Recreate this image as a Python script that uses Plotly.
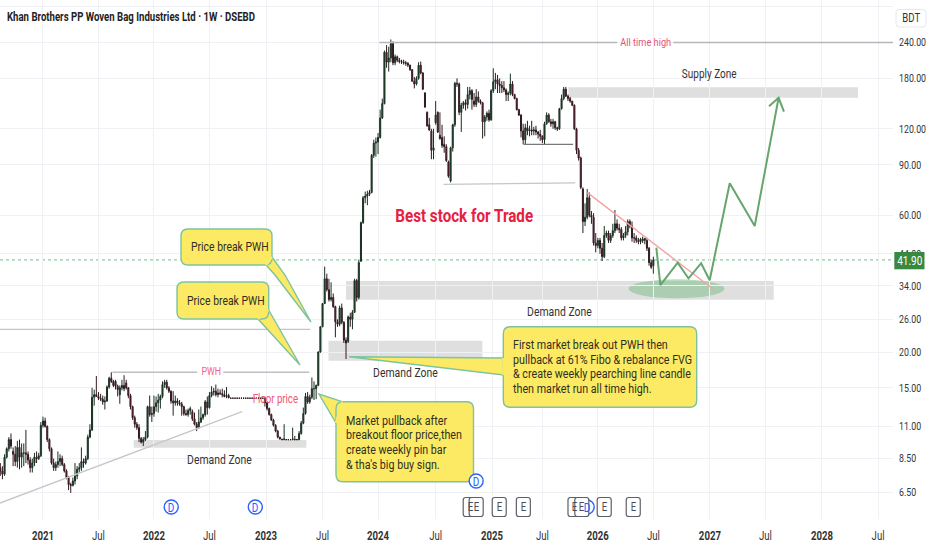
#!/usr/bin/env python
# -*- coding: utf-8 -*-

import plotly.graph_objects as go

# weekly candles, x is the bar number (tradingview style index axis)
opens = [
    7.9, 7.7, 7.5, 8.6, 9.2, 9.9, 9.0, 8.8, 8.3, 9.3,
    8.6, 8.9, 8.9, 8.8, 8.4, 7.9, 8.2, 8.6, 8.5, 8.7,
    11.1, 11.5, 11.0, 9.9, 9.2, 8.2, 7.9, 8.1, 8.3, 8.5,
    8.1, 7.7, 7.3, 6.9, 6.85, 7.1, 7.4, 7.8, 7.9, 8.3,
    8.2, 8.5, 10.1, 10.7, 13.9, 14.2, 14.0, 13.8, 13.7, 13.4,
    13.5, 15.1, 16.2, 15.8, 15.8, 15.2, 14.2, 15.0, 15.3, 15.6,
    15.0, 14.1, 12.9, 11.8, 11.2, 10.9, 10.0, 9.7, 9.9, 10.1,
    12.9, 12.1, 12.2, 12.9, 13.3, 13.6, 14.0, 15.4, 15.7, 15.0,
    14.6, 13.5, 13.3, 13.5, 13.3, 13.2, 12.9, 12.2, 12.1, 12.5,
    12.4, 11.7, 11.2, 10.9, 11.4, 11.8, 12.1, 13.4, 12.8, 14.1,
    14.5, 14.6, 14.2, 14.4, 14.3, 14.2, 14.0, 14.1, 13.8, 13.8,
    13.8, 13.8, 13.8, 13.8, 13.8, 13.8, 13.8, 13.8, 13.8, 13.8,
    13.8, 13.8, 13.8, 13.8, 13.8, 13.3, 12.7, 12.1, 11.6, 11.1,
    10.6, 10.1, 9.95, 9.9, 9.9, 9.9, 9.9, 9.9, 9.9, 9.9,
    9.9, 10.4, 11.3, 12.2, 14.0, 13.4, 13.9, 14.9, 14.9, 15.3,
    20.0, 24.5, 29.5, 36.0, 33.0, 30.5, 31.0, 28.8, 25.5, 25.0,
    28.5, 25.4, 22.0, 21.8, 26.5, 26.0, 27.5, 35.5, 31.0, 41.5,
    56.5, 69.0, 70.0, 71.0, 72.0, 97.0, 107.0, 108.0, 112.0, 131.0,
    147.0, 222.0, 205.0, 212.0, 238.0, 204.0, 214.0, 208.0, 206.0, 205.0,
    204.0, 203.0, 200.0, 193.0, 176.0, 172.0, 180.0, 200.0, 188.0, 160.0,
    137.0, 124.0, 118.0, 101.0, 126.0, 137.0, 114.0, 112.0, 106.0, 104.0,
    92.0, 79.0, 103.0, 124.0, 173.0, 172.0, 137.0, 145.0, 148.0, 146.0,
    158.0, 163.0, 150.0, 146.0, 155.0, 150.0, 148.0, 127.0, 132.0, 136.0,
    129.0, 163.0, 175.0, 178.0, 172.0, 170.0, 167.0, 164.0, 158.0, 160.0,
    172.0, 158.0, 153.0, 140.0, 134.0, 118.0, 110.0, 121.0, 118.0, 119.0,
    118.0, 119.0, 117.0, 115.0, 113.0, 110.0, 125.0, 134.0, 127.0, 125.0,
    127.0, 121.0, 120.0, 141.0, 153.0, 165.0, 156.0, 153.0, 150.0, 145.0,
    120.0, 101.0, 95.0, 74.0, 57.0, 59.0, 69.0, 60.0, 59.0, 48.0,
    47.0, 49.0, 46.0, 43.0, 51.0, 52.0, 49.0, 51.0, 53.0, 56.0,
    54.0, 53.5, 50.0, 51.0, 52.5, 57.0, 55.0, 50.0, 50.0, 49.0,
    48.5, 49.5, 49.0, 49.0, 46.0, 41.0, 40.0,
]
highs = [
    8.2, 8.0, 8.8, 9.3, 10.1, 10.4, 9.3, 9.4, 9.8, 9.9,
    9.6, 9.6, 10.7, 9.0, 8.6, 8.5, 8.9, 9.0, 8.9, 11.4,
    11.9, 11.8, 11.1, 10.0, 9.3, 8.5, 8.3, 9.0, 8.8, 8.7,
    8.2, 7.8, 7.4, 7.0, 7.3, 8.2, 8.0, 8.2, 9.3, 8.5,
    8.7, 10.3, 11.2, 15.0, 14.8, 16.5, 14.5, 14.3, 14.1, 14.0,
    15.3, 16.4, 17.0, 16.0, 16.0, 15.4, 15.3, 16.0, 16.6, 16.0,
    15.1, 14.3, 13.0, 12.0, 11.4, 11.2, 10.1, 10.1, 10.6, 13.0,
    14.1, 12.9, 14.1, 14.0, 14.3, 14.2, 15.8, 16.0, 16.0, 15.2,
    14.7, 14.6, 14.1, 13.8, 13.6, 13.4, 13.0, 12.6, 12.7, 12.9,
    12.6, 12.3, 11.4, 12.6, 12.9, 12.2, 13.6, 14.0, 14.5, 15.2,
    15.0, 15.4, 14.9, 14.8, 14.9, 14.7, 15.1, 14.3, 13.85, 13.85,
    13.85, 13.85, 13.85, 13.85, 13.85, 13.85, 13.85, 13.85, 13.85, 13.85,
    13.85, 13.85, 13.85, 13.85, 14.0, 13.4, 12.8, 12.2, 11.7, 11.2,
    10.7, 10.1, 9.95, 11.2, 9.95, 9.95, 9.95, 10.9, 10.2, 9.95,
    10.6, 11.5, 12.8, 14.4, 14.5, 14.2, 16.3, 15.8, 15.4, 20.1,
    24.6, 29.6, 39.7, 37.5, 36.0, 35.0, 32.0, 29.0, 26.0, 29.0,
    29.5, 25.6, 22.5, 26.8, 27.4, 28.0, 36.0, 36.0, 42.0, 57.0,
    70.0, 72.5, 73.0, 73.5, 98.0, 110.0, 112.0, 116.0, 140.0, 153.0,
    225.0, 235.0, 232.0, 246.0, 242.0, 218.0, 216.0, 212.0, 209.0, 209.0,
    207.0, 205.0, 201.0, 194.0, 182.0, 183.0, 205.0, 206.0, 189.0, 161.0,
    138.0, 131.0, 120.0, 120.0, 150.0, 138.0, 137.0, 124.0, 113.0, 106.0,
    93.0, 104.0, 125.0, 175.0, 180.0, 174.0, 148.0, 150.0, 152.0, 168.0,
    168.0, 165.0, 160.0, 165.0, 162.0, 152.0, 149.0, 134.0, 138.0, 140.0,
    165.0, 195.0, 188.0, 185.0, 180.0, 176.0, 176.0, 166.0, 162.0, 187.0,
    176.0, 159.0, 154.0, 141.0, 135.0, 125.0, 125.0, 128.0, 123.0, 128.0,
    122.0, 123.0, 118.0, 119.0, 114.0, 127.0, 137.0, 136.0, 130.0, 130.0,
    128.0, 122.0, 142.0, 158.0, 168.0, 168.0, 158.0, 155.0, 150.0, 146.0,
    121.0, 103.0, 96.0, 75.0, 66.0, 74.0, 72.0, 62.0, 61.0, 52.0,
    50.0, 50.0, 48.0, 55.0, 53.0, 53.0, 52.0, 56.0, 62.5, 58.0,
    56.0, 54.5, 52.0, 55.0, 58.0, 58.0, 57.0, 52.0, 51.0, 50.0,
    50.0, 50.5, 50.0, 50.0, 46.5, 42.0, 43.0,
]
lows = [
    7.4, 7.2, 7.4, 8.5, 9.0, 9.2, 8.0, 8.0, 7.9, 7.8,
    7.9, 8.0, 8.2, 8.1, 7.6, 7.6, 8.0, 8.2, 8.4, 8.6,
    10.9, 10.9, 9.7, 9.0, 8.1, 7.7, 7.7, 7.9, 8.0, 8.0,
    7.6, 7.2, 6.6, 6.45, 6.8, 6.9, 7.2, 7.6, 7.7, 7.9,
    8.1, 8.4, 10.0, 10.6, 13.0, 14.0, 13.6, 13.5, 13.1, 12.6,
    13.4, 14.9, 15.6, 15.1, 14.8, 14.0, 13.2, 14.7, 14.6, 14.8,
    13.8, 12.6, 11.6, 10.9, 10.7, 9.7, 9.6, 9.4, 9.8, 10.0,
    11.9, 11.4, 11.9, 12.4, 12.3, 12.7, 13.8, 15.0, 14.8, 14.4,
    13.2, 12.0, 13.0, 13.0, 13.0, 12.0, 12.0, 12.0, 11.9, 12.1,
    11.5, 11.1, 10.6, 10.8, 11.3, 11.6, 11.9, 12.1, 12.7, 13.9,
    14.1, 14.0, 13.9, 14.2, 13.9, 13.9, 13.8, 13.8, 13.8, 13.8,
    13.8, 13.8, 13.8, 13.8, 13.8, 13.8, 13.8, 13.8, 13.8, 13.8,
    13.8, 13.8, 13.8, 13.8, 12.9, 12.5, 12.0, 11.5, 11.0, 10.5,
    10.0, 9.9, 9.85, 9.85, 9.85, 9.85, 9.85, 9.85, 9.85, 9.85,
    9.85, 10.3, 11.2, 12.1, 13.2, 13.2, 13.7, 13.6, 13.7, 15.2,
    19.9, 24.4, 29.4, 32.5, 30.0, 30.0, 28.5, 22.5, 24.5, 24.6,
    25.0, 21.5, 18.9, 21.5, 24.5, 24.0, 27.4, 30.0, 30.5, 41.2,
    56.0, 66.0, 65.0, 70.0, 71.5, 95.0, 96.0, 98.0, 111.0, 130.0,
    146.0, 196.0, 190.0, 205.0, 200.0, 200.0, 205.0, 203.0, 202.0, 201.0,
    199.0, 197.0, 191.0, 175.0, 166.0, 170.0, 178.0, 186.0, 164.0, 142.0,
    122.0, 118.0, 94.0, 94.0, 124.0, 116.0, 110.0, 103.0, 99.0, 92.0,
    81.0, 78.0, 100.0, 122.0, 168.0, 134.0, 117.0, 141.0, 139.0, 141.0,
    152.0, 140.0, 143.0, 143.0, 148.0, 146.0, 111.0, 113.0, 128.0, 127.0,
    128.0, 160.0, 165.0, 160.0, 160.0, 160.0, 161.0, 150.0, 150.0, 157.0,
    156.0, 152.0, 139.0, 133.0, 112.0, 106.0, 106.0, 114.0, 113.0, 114.0,
    114.0, 114.0, 111.0, 109.0, 107.0, 106.0, 124.0, 126.0, 122.0, 120.0,
    119.0, 118.0, 119.0, 140.0, 151.0, 155.0, 150.0, 148.0, 144.0, 119.0,
    98.0, 93.0, 74.0, 52.0, 55.0, 58.0, 59.0, 56.0, 47.0, 44.5,
    46.0, 44.0, 41.5, 42.5, 50.0, 48.0, 48.0, 50.0, 52.0, 53.0,
    52.0, 49.0, 49.0, 50.0, 51.0, 54.0, 48.5, 48.0, 48.0, 47.5,
    47.5, 48.0, 47.5, 45.0, 40.0, 39.0, 37.5,
]
closes = [
    7.7, 7.5, 8.6, 9.2, 9.9, 9.4, 8.8, 8.3, 9.3, 8.6,
    8.9, 8.9, 8.8, 8.4, 7.9, 8.2, 8.6, 8.5, 8.7, 11.1,
    11.5, 11.0, 9.9, 9.2, 8.2, 7.9, 8.1, 8.3, 8.5, 8.1,
    7.7, 7.3, 6.9, 6.85, 7.1, 7.4, 7.8, 7.9, 8.3, 8.2,
    8.5, 10.1, 10.7, 13.9, 14.2, 14.0, 13.8, 13.7, 13.4, 13.5,
    15.1, 16.2, 15.8, 15.3, 15.2, 14.8, 15.0, 15.3, 14.9, 15.0,
    14.1, 12.9, 11.8, 11.2, 10.9, 10.0, 9.7, 9.9, 10.1, 12.9,
    12.1, 12.2, 12.9, 13.3, 13.6, 14.0, 15.4, 15.7, 15.0, 14.6,
    13.5, 13.3, 13.5, 13.3, 13.2, 12.9, 12.2, 12.1, 12.5, 12.7,
    11.7, 11.2, 10.9, 11.4, 11.8, 12.1, 13.4, 12.8, 14.1, 14.5,
    14.6, 14.2, 14.4, 14.3, 14.2, 14.0, 14.1, 13.85, 13.8, 13.8,
    13.8, 13.8, 13.8, 13.8, 13.8, 13.8, 13.8, 13.8, 13.8, 13.8,
    13.8, 13.8, 13.8, 13.8, 13.3, 12.7, 12.1, 11.6, 11.1, 10.6,
    10.1, 9.95, 9.9, 9.95, 9.9, 9.9, 9.9, 9.95, 9.9, 9.9,
    10.4, 11.3, 12.2, 14.0, 13.4, 13.9, 14.9, 14.9, 15.3, 20.0,
    24.5, 29.5, 36.0, 33.0, 30.5, 31.0, 28.8, 25.5, 25.0, 28.5,
    25.4, 22.0, 21.5, 26.5, 26.0, 27.5, 35.5, 31.0, 41.0, 56.5,
    69.0, 70.0, 71.0, 72.0, 97.0, 107.0, 108.0, 112.0, 131.0, 147.0,
    222.0, 205.0, 212.0, 238.0, 204.0, 214.0, 208.0, 206.0, 205.0, 204.0,
    203.0, 200.0, 193.0, 176.0, 172.0, 180.0, 200.0, 188.0, 165.0, 143.0,
    123.0, 119.0, 101.0, 103.0, 134.0, 117.0, 111.0, 105.0, 104.0, 93.0,
    82.0, 103.0, 124.0, 173.0, 172.0, 137.0, 145.0, 148.0, 146.0, 158.0,
    163.0, 152.0, 146.0, 155.0, 150.0, 148.0, 127.0, 132.0, 136.0, 129.0,
    163.0, 175.0, 178.0, 172.0, 170.0, 167.0, 164.0, 158.0, 160.0, 172.0,
    158.0, 153.0, 140.0, 134.0, 118.0, 110.0, 121.0, 118.0, 119.0, 118.0,
    119.0, 117.0, 115.0, 113.0, 110.0, 125.0, 134.0, 127.0, 125.0, 127.0,
    121.0, 120.0, 141.0, 153.0, 165.0, 156.0, 153.0, 150.0, 145.0, 120.0,
    101.0, 95.0, 75.0, 57.0, 59.0, 69.0, 60.0, 59.0, 48.0, 47.0,
    49.0, 46.0, 43.0, 51.0, 52.0, 49.0, 51.0, 53.0, 56.0, 54.0,
    53.5, 50.0, 51.0, 52.5, 57.0, 55.0, 50.0, 50.0, 49.0, 48.5,
    49.5, 49.0, 49.8, 46.0, 41.0, 39.5, 41.9,
]

price_ticks = [320, 240, 180, 120, 90, 60, 44, 34, 26, 20, 15, 11, 8.5, 6.5]
price_labels = ["", "240.00", "180.00", "120.00", "90.00", "60.00", "44.00", "34.00",
                "26.00", "20.00", "15.00", "11.00", "8.50", "6.50"]
week_ticks = [20, 46, 72, 98, 124.5, 151, 177, 204, 230.4, 254, 280, 306, 332.5, 358.5, 385, 411.3]
week_labels = ["<b>2021</b>", "Jul", "<b>2022</b>", "Jul", "<b>2023</b>", "Jul", "<b>2024</b>", "Jul",
               "<b>2025</b>", "Jul", "<b>2026</b>", "Jul", "<b>2027</b>", "Jul", "<b>2028</b>", "Jul"]

dividend_weeks = [80.1, 119.5, 275]
earnings_weeks = [220.2, 223, 233.8, 245.1, 269.3, 272.5, 283, 296.6]

# drawings on the chart, as (bar, price)
forecast_weeks = [307.4, 309.3, 317.4, 322.5, 328.4, 332.4, 341.8, 353.5, 364.7]
forecast_prices = [46.2, 34.2, 41.0, 36.1, 40.8, 35.6, 77.5, 55.0, 154]
arrow_weeks = [360.2, 364.7, 367.2]
arrow_prices = [144, 154, 137.7]

# (first bar, last bar, top price, bottom price)
zones = [
    (266.2, 401.9, 167.4, 154),
    (162, 362.4, 35.4, 30.4),
    (153.8, 225.9, 21.9, 18.65),
    (62.5, 143.4, 9.87, 9.28),
]
# (bars, prices, colour, width)
level_lines = [
    ([177.6, 289.1, None, 315.4, 418.5], [240, 240, None, 240, 240], "#b4b6bb", 1.5),
    ([207.7, 269.4], [76.8, 77.7], "#c4c6c9", 1.2),
    ([245.2, 268.4], [106, 106], "#77797c", 1.3),
    ([-1, 145.3], [24, 24], "#c2c4c8", 1.3),
    ([52.5, 92.3, None, 104.5, 144.8], [17, 17, None, 17, 17], "#bdbfc3", 1.3),
    ([-0.14, 113.3], [5.95, 12.39], "#c6c7c8", 1.3),
    ([275.1, 334.6], [71.9, 32.9], "#f3a3a6", 1.4),
]

FONT = "Roboto, sans-serif"
PLOT_W, PLOT_H = 893, 519
BAR_PX, BAR_ORIGIN = 2.134, 0.3
YELLOW, TEAL = "#fdea64", "#7cc3a0"

# the reference lettering is about 20% narrower than anything installed, so squeeze the svg text
SQUEEZE_JS = """
var gd = document.getElementById('{plot_id}');
function squeeze(t, left) {
    var w = t.getComputedTextLength();
    t.setAttribute('lengthAdjust', 'spacingAndGlyphs');
    t.setAttribute('textLength', w * 0.8);
    if (left) { t.setAttribute('x', parseFloat(t.getAttribute('x') || 0) - w * 0.1); }
}
gd.querySelectorAll('.annotation').forEach(function (g) {
    var ann = gd.layout.annotations[+g.getAttribute('data-index')];
    squeeze(g.querySelector('text'), ann.xanchor === 'left');
});
gd.querySelectorAll('.xtick text, .ytick text').forEach(function (t) { squeeze(t, false); });
document.body.style.margin = '0';
"""


def px_x(x):
    return x / PLOT_W


def px_y(y):
    return 1 - y / PLOT_H


def round_path(x0, y0, x1, y1, r):
    pts = [
        ("M", x0 + r, y0), ("L", x1 - r, y0), ("Q", x1, y0, x1, y0 + r),
        ("L", x1, y1 - r), ("Q", x1, y1, x1 - r, y1), ("L", x0 + r, y1),
        ("Q", x0, y1, x0, y1 - r), ("L", x0, y0 + r), ("Q", x0, y0, x0 + r, y0),
    ]
    out = []
    for p in pts:
        vals = list(p[1:])
        coords = []
        for i in range(0, len(vals), 2):
            coords.append(f"{px_x(vals[i]):.5f},{px_y(vals[i + 1]):.5f}")
        out.append(p[0] + " ".join(coords))
    return " ".join(out) + " Z"


def poly_path(points):
    return "M" + " L".join(f"{px_x(x):.5f},{px_y(y):.5f}" for x, y in points) + " Z"


def add_label(fig, x, y, text, size=12, color="#333", anchor="center", weight=400):
    fig.add_annotation(
        xref="paper", yref="paper", x=px_x(x), y=px_y(y), text=text, showarrow=False,
        xanchor=anchor, yanchor="middle", font=dict(family=FONT, size=size, color=color, weight=weight),
    )


def add_callout(fig, box, tail, lines, text_x, first_y, pitch, size=13.4):
    x0, y0, x1, y1 = box
    shape = dict(xref="paper", yref="paper", fillcolor=YELLOW, layer="above")
    fig.add_shape(type="path", path=poly_path(tail), line=dict(color=TEAL, width=1.4), **shape)
    fig.add_shape(type="path", path=round_path(x0, y0, x1, y1, 7), line=dict(color=TEAL, width=1.4), **shape)
    # hide the border where the tail joins the box
    fig.add_shape(type="line", xref="paper", yref="paper", layer="above",
                  x0=px_x(tail[0][0]), y0=px_y(tail[0][1]), x1=px_x(tail[-1][0]), y1=px_y(tail[-1][1]),
                  line=dict(color=YELLOW, width=2.2))
    for i, line in enumerate(lines):
        add_label(fig, text_x, first_y + i * pitch, line, size=size, color="#2f2f20", anchor="left")


fig = go.Figure()

for x0, x1, top, bottom in zones:
    fig.add_shape(type="rect", xref="x", yref="y", x0=x0, x1=x1, y0=bottom, y1=top, layer="below",
                  fillcolor="rgba(170,170,172,0.38)", line_width=0)

fig.add_shape(type="circle", xref="x", yref="y", x0=294.4, x1=339.4, y0=30.8, y1=35.9, layer="below",
              fillcolor="rgba(129,190,140,0.55)", line_width=0)

fig.add_shape(type="line", xref="paper", yref="y", x0=0, x1=1, y0=41.9, y1=41.9, layer="below",
              line=dict(color="#6fbf8a", width=1, dash="dot"))

fig.add_trace(go.Candlestick(
    x=list(range(len(closes))),
    open=opens,
    high=highs,
    low=lows,
    close=closes,
    increasing=dict(line=dict(color="#1b2f22", width=1), fillcolor="#14532d"),
    decreasing=dict(line=dict(color="#2f1a20", width=1), fillcolor="#961d41"),
    whiskerwidth=0,
    hoverinfo="skip",
))

for xs, ys, color, width in level_lines:
    fig.add_trace(go.Scatter(x=xs, y=ys, mode="lines", line=dict(color=color, width=width),
                             hoverinfo="skip", connectgaps=False))

for xs, ys in ((forecast_weeks, forecast_prices), (arrow_weeks, arrow_prices)):
    fig.add_trace(go.Scatter(x=xs, y=ys, mode="lines", line=dict(color="#66a56c", width=2),
                             hoverinfo="skip"))

fig.update_layout(
    width=932,
    height=550,
    autosize=False,
    margin=dict(l=0, r=932 - PLOT_W, t=0, b=550 - PLOT_H),
    paper_bgcolor="white",
    plot_bgcolor="white",
    showlegend=False,
    font=dict(family=FONT, size=12, color="#333"),
    xaxis=dict(
        range=[-0.14, 418.3], tickmode="array", tickvals=week_ticks, ticktext=week_labels,
        showgrid=True, gridcolor="#eff1f4", gridwidth=1, zeroline=False, showline=False, automargin=False,
        ticks="", rangeslider=dict(visible=False), tickfont=dict(family=FONT, size=12, color="#333"),
        ticklabelstandoff=8,
    ),
    yaxis=dict(
        type="log", range=[0.7188, 2.5284], side="right",
        tickmode="array", tickvals=price_ticks, ticktext=price_labels,
        showgrid=True, gridcolor="#eff1f4", gridwidth=1, zeroline=False, showline=False, automargin=False,
        ticks="", tickfont=dict(family=FONT, size=11, color="#333"), ticklabelstandoff=5,
    ),
)

add_label(fig, 4.5, 17, "Khan Brothers PP Woven Bag Industries Ltd · 1W · DSEBD", size=12, color="#222", anchor="left", weight=700)
add_label(fig, 464, 215, "Best stock for Trade", size=19, color="#e5213f", weight=700)
add_label(fig, 709, 74, "Supply Zone", size=12.5)
add_label(fig, 645, 42, "All time high", size=11.5, color="#e8537c")
add_label(fig, 211, 371.5, "PWH", size=11, color="#f0647f")
add_label(fig, 275, 399, "Floor price", size=12, color="#ee5570")
add_label(fig, 219, 459, "Demand Zone", size=13)
add_label(fig, 405, 372.5, "Demand Zone", size=13)
add_label(fig, 559, 311.5, "Demand Zone", size=13)

add_callout(fig, (181, 229, 272, 265), [(272, 257), (285, 275), (311, 322), (275, 275), (266, 265)],
            ["Price break PWH"], 188.5, 246, 15, size=13)
add_callout(fig, (177, 282, 268.7, 319), [(268.7, 310), (300, 365), (258, 319)],
            ["Price break PWH"], 184.5, 300, 15, size=13)
add_callout(fig, (336, 401.7, 473.5, 481.7), [(342, 401.7), (319, 394), (336, 423)],
            ["Market pullback after", "breakout floor price,then", "create weekly pin bar", "& tha's big buy sign."],
            343.5, 420, 14.7)
add_callout(fig, (503.3, 326.7, 696.7, 407.3), [(503.3, 358), (349, 356.7), (503.3, 375)],
            ["First market break out PWH then", "pullback at 61% Fibo & rebalance FVG",
             "& create weekly pearching line candle", "then market run all time high."],
            511, 344.5, 14.7)

# event markers along the bottom of the pane
for wk in dividend_weeks:
    cx = BAR_ORIGIN + BAR_PX * wk
    fig.add_shape(type="circle", xref="paper", yref="paper", x0=px_x(cx - 7), x1=px_x(cx + 7),
                  y0=px_y(514), y1=px_y(500), fillcolor="white", line=dict(color="#2962ff", width=1.4))
    add_label(fig, cx, 507, "D", size=12.5, color="#2962ff")

cx = BAR_ORIGIN + BAR_PX * 223
fig.add_shape(type="circle", xref="paper", yref="paper", x0=px_x(cx - 7), x1=px_x(cx + 7),
              y0=px_y(488), y1=px_y(474), fillcolor="white", line=dict(color="#2962ff", width=1.4))
add_label(fig, cx, 481, "D", size=12.5, color="#2962ff")

for wk in earnings_weeks:
    cx = BAR_ORIGIN + BAR_PX * wk
    fig.add_shape(type="path", xref="paper", yref="paper", path=round_path(cx - 7, 497.5, cx + 7, 516.5, 2.5),
                  fillcolor="white", line=dict(color="#5d6068", width=1.2))
    add_label(fig, cx, 507, "E", size=12, color="#4a4d55")

# currency box and last price label on the scale
fig.add_shape(type="path", xref="paper", yref="paper", path=round_path(896, 9.5, 926, 27, 3),
              fillcolor="white", line=dict(color="#e6e8ee", width=1))
add_label(fig, 911, 18, "BDT", size=12)
fig.add_shape(type="rect", xref="paper", yref="paper", x0=px_x(894.3), x1=px_x(924.5), y0=px_y(269.3), y1=px_y(252),
              fillcolor="#38893f", line_width=0)
add_label(fig, 909.5, 260.8, "41.90", size=12.5, color="white")

fig.write_html("out.html", config={"displayModeBar": False}, post_script=SQUEEZE_JS)
